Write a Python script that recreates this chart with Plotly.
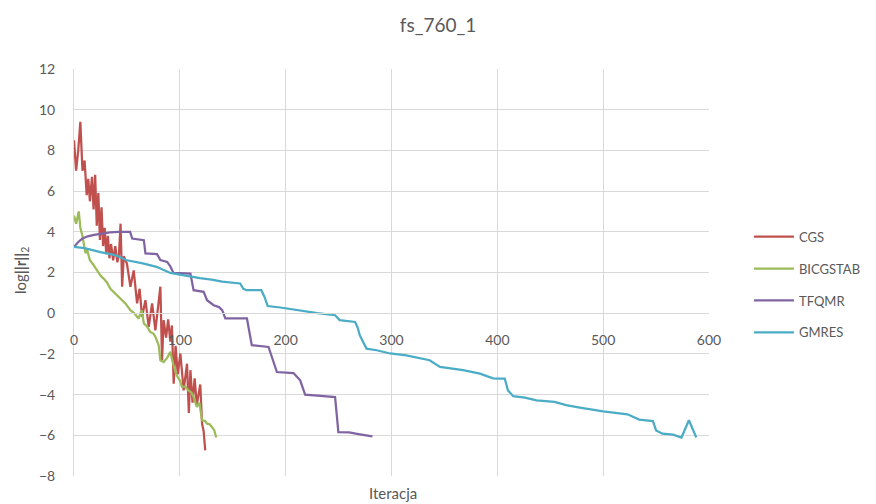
import plotly.graph_objects as go

# ---- data ----
cgs_x = [0, 2, 4, 6, 8, 10, 12, 13.5, 15, 17, 18.5, 20, 21.5, 23, 24.5, 26, 27.5, 29, 30.5, 32,
         33.5, 35, 37, 39, 41, 42.5, 44, 45.5, 47, 50, 53.3, 56.4, 59.6, 62, 64.3, 67.5, 70.6, 73.8, 76.9, 79,
         81.6, 83.2, 84.7, 87, 89, 91, 92.5, 94.2, 96, 98, 100.5, 103.6, 106.8, 108.5, 110, 112, 114, 116,
         119.3, 121, 122.5, 124]
cgs_y = [8.5, 7.0, 8.0, 9.4, 7.0, 7.5, 5.8, 6.6, 5.5, 6.7, 5.1, 6.8, 4.3, 5.9, 3.6, 5.2, 3.3, 4.2, 2.9, 3.8,
         2.7, 3.4, 2.6, 3.3, 2.5, 2.9, 4.4, 1.3, 2.8, 2.44, 1.3, 2.1, 0.48, 1.2, -0.18, 0.64, -0.67, 0.48,
         -0.84, 0.2, 1.3, -2.3, -0.34, -1.2, -0.3, -1.4, -0.6, -3.46, -1.6, -3.0, -1.98, -3.79, -2.48, -4.9,
         -2.8, -4.4, -3.2, -4.5, -3.5, -5.43, -5.8, -6.74]

bicg_x = [0, 2, 4.5, 6, 8, 10.8, 12.5, 15, 18.7, 22, 25, 28, 31.3, 34.4, 37.5, 41, 45.5, 49, 53.3, 57, 61, 64,
          66, 69, 72, 75, 77, 80, 81.6, 84.7, 88, 91, 94, 97, 100, 102, 105, 108, 111, 113, 116, 118.5, 121,
          124, 125.7, 128, 130.4, 132.5, 134.4]
bicg_y = [4.8, 4.4, 5.0, 4.2, 3.8, 2.95, 3.1, 2.6, 2.35, 2.1, 1.85, 1.7, 1.5, 1.2, 1.05, 0.85, 0.64, 0.45, 0.15,
          0.0, -0.26, 0.15, -0.5, -0.65, -0.92, -1.0, -1.17, -1.57, -2.31, -2.4, -2.2, -1.9, -2.56, -3.05,
          -3.3, -3.62, -3.6, -3.79, -3.9, -4.12, -4.6, -4.4, -5.26, -5.3, -5.43, -5.45, -5.6, -5.75, -6.11]

tfqmr_x = [0, 4, 8, 13, 19, 26, 34, 42, 50, 53, 55, 60, 66, 67.5, 72, 78.5, 81.6, 85, 88, 91, 94, 100, 110,
           113, 119, 122.5, 125.7, 129, 132, 137, 140, 143, 150, 163.4, 168, 176, 183.8, 191.7, 200, 207.4,
           213.7, 218.4, 230, 246.7, 249.8, 260, 270, 282]
tfqmr_y = [3.26, 3.5, 3.67, 3.78, 3.85, 3.92, 3.97, 4.0, 4.02, 4.0, 3.67, 3.62, 3.59, 2.94, 2.92, 2.9, 2.61,
           2.55, 2.52, 2.3, 1.98, 1.97, 1.95, 1.13, 1.08, 1.05, 0.64, 0.5, 0.39, 0.3, 0.15, -0.26, -0.26,
           -0.26, -1.57, -1.6, -1.66, -2.89, -2.9, -2.94, -3.3, -4.0, -4.05, -4.12, -5.84, -5.86, -5.95, -6.05]

gmres_x = [0, 10, 25, 39, 50, 65, 78, 85, 91, 100, 110, 119, 130, 140, 157, 160, 163, 177, 180, 183, 195, 210,
           230, 246.7, 251, 265.6, 268, 270, 276.4, 286, 298.6, 314, 327, 336, 345.8, 367.7, 383.5, 396, 402,
           407, 410, 415, 426, 437, 454, 465, 478, 500, 523, 534, 547, 550, 556, 566, 574, 581, 588]
gmres_y = [3.26, 3.2, 3.0, 2.85, 2.6, 2.45, 2.28, 2.1, 1.98, 1.9, 1.8, 1.72, 1.65, 1.55, 1.46, 1.2, 1.13, 1.13,
           0.8, 0.35, 0.28, 0.15, 0.0, -0.1, -0.34, -0.43, -0.7, -1.08, -1.74, -1.82, -1.98, -2.07, -2.23,
           -2.31, -2.64, -2.8, -2.97, -3.2, -3.21, -3.21, -3.79, -4.08, -4.15, -4.28, -4.36, -4.52, -4.64,
           -4.82, -4.97, -5.23, -5.3, -5.76, -5.92, -5.97, -6.11, -5.26, -6.11]

series_names = ["CGS", "BICGSTAB", "TFQMR", "GMRES"]
series_colors = ["#C0504D", "#9BBB59", "#8064A2", "#4BACC6"]
x_ticks = [0, 100, 200, 300, 400, 500, 600]
y_ticks = [-8, -6, -4, -2, 0, 2, 4, 6, 8, 10, 12]

FONT = "Lato"
TXT = "#595959"
GRID = "#D9D9D9"

# The page body has an 8px margin, so the figure is drawn 8px in from the window's top-left.
OFF = 8
W, H = 876 - OFF, 504 - OFF
L, R, T, B = 73.5 - OFF, W - (709 - OFF), 68.6 - OFF, H - (475.6 - OFF)
plot_w = W - L - R
plot_h = H - T - B

fig = go.Figure()
for name, color, xs, ys in zip(series_names, series_colors,
                               [cgs_x, bicg_x, tfqmr_x, gmres_x],
                               [cgs_y, bicg_y, tfqmr_y, gmres_y]):
    fig.add_trace(go.Scatter(x=xs, y=ys, mode="lines", name=name, legendgroup=name,
                             line=dict(color=color, width=2.25)))

fig.update_layout(
    width=W, height=H,
    paper_bgcolor="white", plot_bgcolor="white",
    margin=dict(l=L, r=R, t=T, b=B, autoexpand=False),
    font=dict(family=FONT, color=TXT, size=14),
    title=dict(text="fs_760_1", x=(438 - OFF) / W, xanchor="center", xref="container",
               y=1 - (25 - OFF) / H, yref="container", yanchor="middle",
               font=dict(size=19, color=TXT, family=FONT)),
    legend=dict(x=(749 - OFF - L) / plot_w, xanchor="left", y=0.47, yanchor="middle",
                font=dict(size=13, color=TXT, family=FONT), itemwidth=40,
                tracegroupgap=12, bgcolor="rgba(0,0,0,0)"),
    xaxis=dict(range=[0, 600], tickvals=x_ticks, showgrid=True, gridcolor=GRID, gridwidth=1,
               zeroline=False, showline=True, linecolor=GRID, linewidth=1,
               anchor="free", position=0.4, ticks="", ticklabelstandoff=14,
               tickfont=dict(size=14, color=TXT, family=FONT)),
    yaxis=dict(range=[-8, 12], tickvals=y_ticks, showgrid=True, gridcolor=GRID, gridwidth=1,
               zeroline=False, showline=True, linecolor=GRID, linewidth=1, ticks="",
               ticklabelstandoff=15,
               tickfont=dict(size=14, color=TXT, family=FONT)),
    annotations=[
        dict(text="Iteracja", x=(393 - OFF - L) / plot_w, xref="paper", xanchor="center",
             y=-(493 - 475.6) / plot_h, yref="paper", yanchor="middle", showarrow=False,
             font=dict(size=15, color=TXT, family=FONT)),
        dict(text="log<b>||r||</b><sub>2</sub>", textangle=-90,
             x=-(73.5 - 21) / plot_w, xref="paper", xanchor="center",
             y=(475.6 - 270) / plot_h, yref="paper", yanchor="middle",
             showarrow=False, font=dict(size=15, color=TXT, family=FONT)),
    ],
)

fig.write_html("out.html")
